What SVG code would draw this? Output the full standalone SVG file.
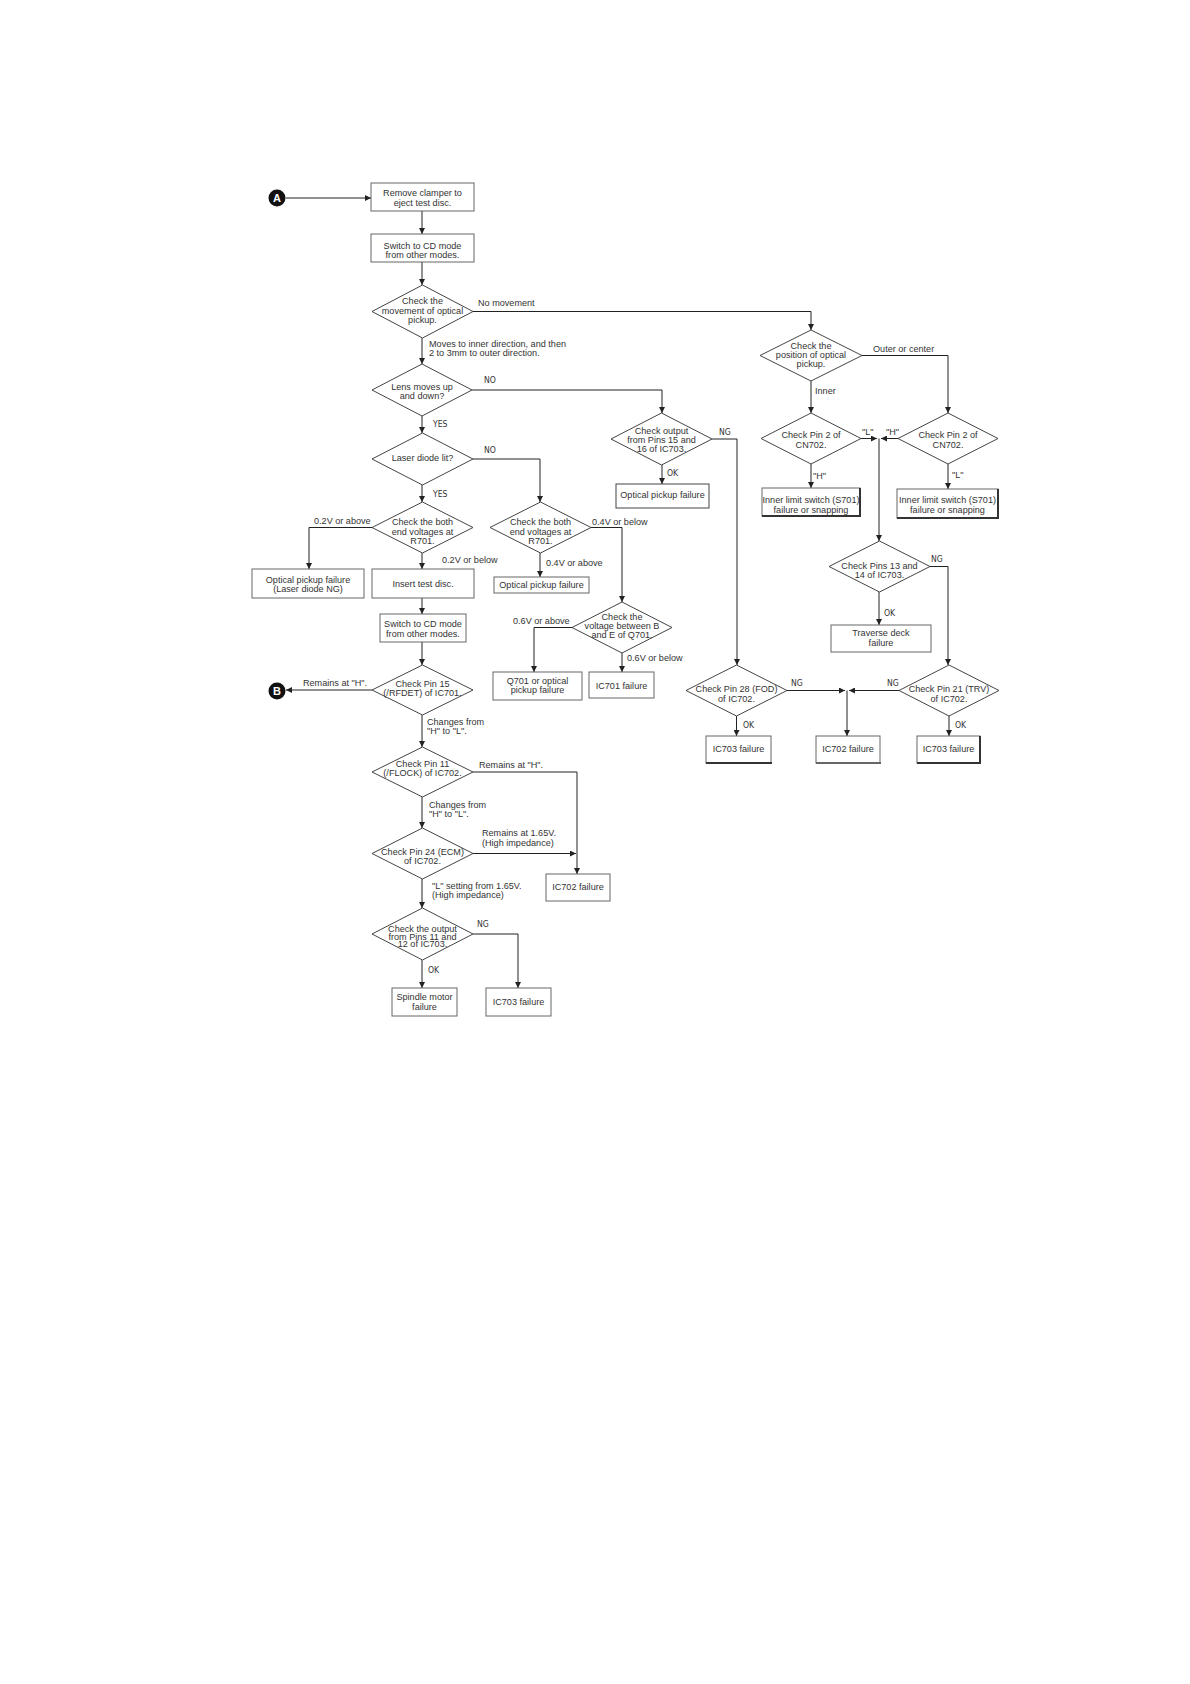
<svg xmlns="http://www.w3.org/2000/svg" width="1190" height="1684" viewBox="0 0 1190 1684">
<defs>
<marker id="ah" markerUnits="userSpaceOnUse" markerWidth="7" markerHeight="6" refX="6" refY="3" orient="auto">
<path d="M0,0 L6,3 L0,6 z" fill="#222"/>
</marker>
<style>
.bg{fill:#fff}
.box{fill:#fff;stroke:#666;stroke-width:1}
.dia{fill:#fff;stroke:#444;stroke-width:1}
.sh{stroke:#333;stroke-width:2;fill:none}
.c{fill:none;stroke:#222;stroke-width:1;marker-end:url(#ah)}
text{font-family:"Liberation Sans",Arial,sans-serif;font-size:9.1px;fill:#333}
.m{text-anchor:middle}
.k{font-family:"DejaVu Sans Condensed","DejaVu Sans","Liberation Sans",sans-serif;font-stretch:condensed;font-size:8.6px;fill:#333}
.circ{fill:#111}
.ct{font-family:"Liberation Sans",Arial,sans-serif;font-weight:bold;font-size:11px;fill:#fff;text-anchor:middle}
</style>
</defs>
<rect class="bg" x="0" y="0" width="1190" height="1684"/>

<g id="connectors">
<line class="c" x1="286" y1="198" x2="371" y2="198"/>
<line class="c" x1="422" y1="211" x2="422" y2="234"/>
<line class="c" x1="422" y1="262" x2="422" y2="285"/>
<polyline class="c" points="473,311.5 811,311.5 811,330"/>
<line class="c" x1="422" y1="338" x2="422" y2="364"/>
<polyline class="c" points="472,390 662,390 662,413"/>
<line class="c" x1="422" y1="416" x2="422" y2="433"/>
<polyline class="c" points="473,459 540,459 540,502"/>
<line class="c" x1="422" y1="485" x2="422" y2="502"/>
<polyline class="c" points="712,439 737,439 737,665"/>
<line class="c" x1="662" y1="465" x2="662" y2="484"/>
<polyline class="c" points="372,527.5 309,527.5 309,569"/>
<line class="c" x1="422" y1="553" x2="422" y2="569"/>
<line class="c" x1="422" y1="598" x2="422" y2="614"/>
<line class="c" x1="422" y1="642" x2="422" y2="665"/>
<polyline class="c" points="591,527.5 622,527.5 622,602"/>
<line class="c" x1="540" y1="553" x2="540" y2="577"/>
<polyline class="c" points="572,627.5 534,627.5 534,672"/>
<line class="c" x1="622" y1="653" x2="622" y2="672"/>
<polyline class="c" points="862,355.5 948,355.5 948,413"/>
<line class="c" x1="811" y1="381" x2="811" y2="413"/>
<line class="c" x1="861" y1="438.5" x2="877" y2="438.5"/>
<line class="c" x1="898" y1="438.5" x2="881" y2="438.5"/>
<line class="c" x1="879" y1="438.5" x2="879" y2="541"/>
<line class="c" x1="811" y1="464" x2="811" y2="488"/>
<line class="c" x1="948" y1="464" x2="948" y2="489"/>
<polyline class="c" points="930,566.5 948,566.5 948,665"/>
<line class="c" x1="879" y1="592" x2="879" y2="625"/>
<line class="c" x1="787" y1="690.5" x2="845" y2="690.5"/>
<line class="c" x1="899" y1="690.5" x2="849" y2="690.5"/>
<line class="c" x1="847" y1="690.5" x2="847" y2="736"/>
<line class="c" x1="736.5" y1="716" x2="736.5" y2="736"/>
<line class="c" x1="949" y1="716" x2="949" y2="736"/>
<line class="c" x1="372" y1="690" x2="286" y2="690"/>
<line class="c" x1="422" y1="715" x2="422" y2="747"/>
<polyline class="c" points="473,772 577,772 577,874"/>
<line class="c" x1="422" y1="797" x2="422" y2="828"/>
<line class="c" x1="473" y1="853.5" x2="576" y2="853.5"/>
<line class="c" x1="422" y1="879" x2="422" y2="908"/>
<polyline class="c" points="473,934 518,934 518,988"/>
<line class="c" x1="422" y1="960" x2="422" y2="988"/>
</g>

<g id="labels">
<text x="478" y="306">No movement</text>
<text x="429" y="347">Moves to inner direction, and then</text>
<text x="429" y="356">2 to 3mm to outer direction.</text>
<text class="k" x="484" y="383">NO</text>
<text class="k" x="433" y="427">YES</text>
<text class="k" x="484" y="453">NO</text>
<text class="k" x="433" y="497">YES</text>
<text class="k" x="719" y="435">NG</text>
<text class="k" x="667" y="476">OK</text>
<text x="314" y="524">0.2V or above</text>
<text x="442" y="563">0.2V or below</text>
<text x="592" y="525">0.4V or below</text>
<text x="546" y="566">0.4V or above</text>
<text x="513" y="624">0.6V or above</text>
<text x="627" y="661">0.6V or below</text>
<text x="873" y="352">Outer or center</text>
<text x="815" y="394">Inner</text>
<text x="862" y="435">"L"</text>
<text x="886" y="435">"H"</text>
<text x="813" y="479">"H"</text>
<text x="952" y="478">"L"</text>
<text class="k" x="931" y="562">NG</text>
<text class="k" x="884" y="616">OK</text>
<text class="k" x="791" y="686">NG</text>
<text class="k" x="887" y="686">NG</text>
<text class="k" x="743" y="728">OK</text>
<text class="k" x="955" y="728">OK</text>
<text x="303" y="686">Remains at "H".</text>
<text x="427" y="725">Changes from</text>
<text x="427" y="734">"H" to "L".</text>
<text x="479" y="768">Remains at "H".</text>
<text x="429" y="808">Changes from</text>
<text x="429" y="817">"H" to "L".</text>
<text x="482" y="836">Remains at 1.65V.</text>
<text x="482" y="846">(High impedance)</text>
<text x="432" y="889">"L" setting from 1.65V.</text>
<text x="432" y="898">(High impedance)</text>
<text class="k" x="477" y="927">NG</text>
<text class="k" x="428" y="973">OK</text>
</g>

<g id="A"><circle class="circ" cx="277" cy="198" r="8.5"/><text class="ct" x="277" y="202">A</text></g>
<g id="B"><circle class="circ" cx="277" cy="691" r="8.5"/><text class="ct" x="277" y="695">B</text></g>

<g id="box1"><rect class="box" x="371" y="183" width="103" height="28"/><text class="m" x="422.5" y="196">Remove clamper to</text><text class="m" x="422.5" y="206">eject test disc.</text></g>
<g id="box2"><rect class="box" x="371" y="234" width="103" height="28"/><text class="m" x="422.5" y="249">Switch to CD mode</text><text class="m" x="422.5" y="258">from other modes.</text></g>
<g id="d1"><polygon class="dia" points="422.5,285 473,311.5 422.5,338 372,311.5"/><text class="m" x="422.5" y="304">Check the</text><text class="m" x="422.5" y="314">movement of optical</text><text class="m" x="422.5" y="323">pickup.</text></g>
<g id="d2"><polygon class="dia" points="422,364 472,390 422,416 372,390"/><text class="m" x="422" y="390">Lens moves up</text><text class="m" x="422" y="399">and down?</text></g>
<g id="d3"><polygon class="dia" points="422.5,433 473,459 422.5,485 372,459"/><text class="m" x="422.5" y="461">Laser diode lit?</text></g>
<g id="d4"><polygon class="dia" points="422.5,502 473,527.5 422.5,553 372,527.5"/><text class="m" x="422.5" y="525">Check the both</text><text class="m" x="422.5" y="535">end voltages at</text><text class="m" x="422.5" y="544">R701.</text></g>
<g id="d5"><polygon class="dia" points="540.5,502 591,527.5 540.5,553 490,527.5"/><text class="m" x="540.5" y="525">Check the both</text><text class="m" x="540.5" y="535">end voltages at</text><text class="m" x="540.5" y="544">R701.</text></g>
<g id="box3"><rect class="box" x="252" y="569" width="112" height="29"/><text class="m" x="308" y="583">Optical pickup failure</text><text class="m" x="308" y="592">(Laser diode NG)</text></g>
<g id="box4"><rect class="box" x="372" y="569" width="102" height="29"/><text class="m" x="423" y="587">Insert test disc.</text></g>
<g id="box5"><rect class="box" x="380" y="614" width="86" height="28"/><text class="m" x="423" y="627">Switch to CD mode</text><text class="m" x="423" y="637">from other modes.</text></g>
<g id="box6"><rect class="box" x="494" y="577" width="95" height="16"/><text class="m" x="541.5" y="588">Optical pickup failure</text></g>
<g id="d6"><polygon class="dia" points="622,602 672,627.5 622,653 572,627.5"/><text class="m" x="622" y="620">Check the</text><text class="m" x="622" y="629">voltage between B</text><text class="m" x="622" y="638">and E of Q701.</text></g>
<g id="box7"><rect class="box" x="493" y="672" width="89" height="28"/><text class="m" x="537.5" y="684">Q701 or optical</text><text class="m" x="537.5" y="693">pickup failure</text></g>
<g id="box8"><rect class="box" x="589" y="672" width="65" height="26"/><text class="m" x="621.5" y="689">IC701 failure</text></g>
<g id="d7"><polygon class="dia" points="661.5,413 712,439 661.5,465 611,439"/><text class="m" x="661.5" y="434">Check output</text><text class="m" x="661.5" y="443">from Pins 15 and</text><text class="m" x="661.5" y="452">16 of IC703.</text></g>
<g id="box9"><rect class="box" x="616" y="484" width="93" height="24" style="stroke:#444"/><text class="m" x="662.5" y="498">Optical pickup failure</text></g>
<g id="d8"><polygon class="dia" points="811,330 862,355.5 811,381 760,355.5"/><text class="m" x="811" y="349">Check the</text><text class="m" x="811" y="358">position of optical</text><text class="m" x="811" y="367">pickup.</text></g>
<g id="d9"><polygon class="dia" points="811,413 861,438.5 811,464 761,438.5"/><text class="m" x="811" y="438">Check Pin 2 of</text><text class="m" x="811" y="448">CN702.</text></g>
<g id="d10"><polygon class="dia" points="948,413 998,438.5 948,464 898,438.5"/><text class="m" x="948" y="438">Check Pin 2 of</text><text class="m" x="948" y="448">CN702.</text></g>
<g id="box10"><rect class="box" x="762" y="488" width="98" height="28"/><line class="sh" x1="762" y1="516" x2="861" y2="516"/><line class="sh" x1="860" y1="488" x2="860" y2="517"/><text class="m" x="811" y="503">Inner limit switch (S701)</text><text class="m" x="811" y="513">failure or snapping</text></g>
<g id="box11"><rect class="box" x="897" y="489" width="101" height="29"/><line class="sh" x1="897" y1="518" x2="999" y2="518"/><line class="sh" x1="998" y1="489" x2="998" y2="519"/><text class="m" x="947.5" y="503">Inner limit switch (S701)</text><text class="m" x="947.5" y="513">failure or snapping</text></g>
<g id="d11"><polygon class="dia" points="879.5,541 930,566.5 879.5,592 829,566.5"/><text class="m" x="879.5" y="569">Check Pins 13 and</text><text class="m" x="879.5" y="578">14 of IC703.</text></g>
<g id="box12"><rect class="box" x="831" y="625" width="100" height="27"/><text class="m" x="881" y="636">Traverse deck</text><text class="m" x="881" y="646">failure</text></g>
<g id="d12"><polygon class="dia" points="736.5,665 787,690.5 736.5,716 686,690.5"/><text class="m" x="736.5" y="692">Check Pin 28 (FOD)</text><text class="m" x="736.5" y="702">of IC702.</text></g>
<g id="d13"><polygon class="dia" points="949,665 999,690.5 949,716 899,690.5"/><text class="m" x="949" y="692">Check Pin 21 (TRV)</text><text class="m" x="949" y="702">of IC702.</text></g>
<g id="box13"><rect class="box" x="706" y="736" width="65" height="27"/><line class="sh" x1="706" y1="763" x2="772" y2="763"/><text class="m" x="738.5" y="752">IC703 failure</text></g>
<g id="box14"><rect class="box" x="816" y="736" width="64" height="27"/><line class="sh" x1="816" y1="763" x2="881" y2="763" style="stroke:#666"/><text class="m" x="848" y="752">IC702 failure</text></g>
<g id="box15"><rect class="box" x="917" y="736" width="63" height="27"/><line class="sh" x1="917" y1="763" x2="981" y2="763"/><line class="sh" x1="980" y1="736" x2="980" y2="764"/><text class="m" x="948.5" y="752">IC703 failure</text></g>
<g id="d14"><polygon class="dia" points="422.5,665 473,690 422.5,715 372,690"/><text class="m" x="422.5" y="687">Check Pin 15</text><text class="m" x="422.5" y="696">(/RFDET) of IC701.</text></g>
<g id="d15"><polygon class="dia" points="422.5,747 473,772 422.5,797 372,772"/><text class="m" x="422.5" y="767">Check Pin 11</text><text class="m" x="422.5" y="776">(/FLOCK) of IC702.</text></g>
<g id="d16"><polygon class="dia" points="422.5,828 473,853.5 422.5,879 372,853.5"/><text class="m" x="422.5" y="855">Check Pin 24 (ECM)</text><text class="m" x="422.5" y="864">of IC702.</text></g>
<g id="box16"><rect class="box" x="546" y="874" width="64" height="27"/><text class="m" x="578" y="890">IC702 failure</text></g>
<g id="d17"><polygon class="dia" points="422.5,908 473,934 422.5,960 372,934"/><text class="m" x="422.5" y="932">Check the output</text><text class="m" x="422.5" y="940">from Pins 11 and</text><text class="m" x="422.5" y="947">12 of IC703.</text></g>
<g id="box17"><rect class="box" x="392" y="988" width="65" height="28"/><text class="m" x="424.5" y="1000">Spindle motor</text><text class="m" x="424.5" y="1010">failure</text></g>
<g id="box18"><rect class="box" x="486" y="988" width="65" height="28"/><text class="m" x="518.5" y="1005">IC703 failure</text></g>
</svg>
